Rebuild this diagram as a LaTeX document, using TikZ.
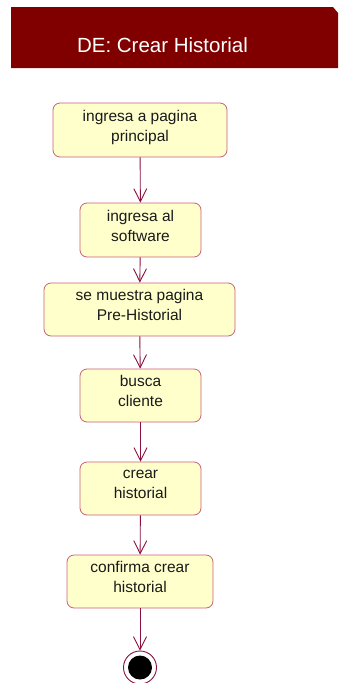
\documentclass[tikz,border=0pt]{standalone}
\usepackage{fontspec}
\setmainfont{Liberation Sans}
\usetikzlibrary{arrows.meta}
\definecolor{umlred}{HTML}{800000}
\definecolor{umlline}{HTML}{8A1040}
\definecolor{umlborder}{HTML}{C8607A}
\definecolor{umlfill}{HTML}{FFFFCC}
\definecolor{umltext}{HTML}{1A1A1A}
\tikzset{
  act/.style={draw=umlborder, fill=umlfill, rounded corners=7pt, align=center, text=umltext,
    font=\fontsize{15.5}{20}\selectfont, inner sep=0pt, text depth=9pt, line width=0.8pt},
  flow/.style={umlline, line width=0.9pt, -{Straight Barb[length=13pt,width=13pt,line width=0.9pt]}}
}
\begin{document}
\begin{tikzpicture}[x=1pt,y=-1pt]
\useasboundingbox (0,0) rectangle (338,683);
% title bar
\fill[umlred] (11,7) -- (333,7) -- (338,13) -- (338,68) -- (11,68) -- cycle;
\node[white, font=\fontsize{20.5}{22}\selectfont] (title) at (162.5,45) {DE: Crear Historial};
% actions
\node[act, minimum width=174pt, minimum height=54pt] (a1) at (140,130) {ingresa a pagina\\principal};
\node[act, minimum width=121pt, minimum height=54pt] (a2) at (140.5,230) {ingresa al\\software};
\node[act, minimum width=191pt, minimum height=53pt] (a3) at (139.5,309.5) {se muestra pagina\\Pre-Historial};
\node[act, minimum width=121pt, minimum height=53pt] (a4) at (140.5,395.5) {busca\\cliente};
\node[act, minimum width=121pt, minimum height=53pt] (a5) at (140.5,488.5) {crear\\historial};
\node[act, minimum width=146pt, minimum height=53pt] (a6) at (140,581.5) {confirma crear\\historial};
% final state
\node[circle, draw=umlline, fill=white, line width=0.9pt, minimum size=33pt, inner sep=0pt] (fin) at (140,667.5) {};
\fill[black] (fin.center) circle (12);
% flows
\draw[flow] (a1) -- (a2);
\draw[flow] (a2) -- (a3);
\draw[flow] (a3) -- (a4);
\draw[flow] (a4) -- (a5);
\draw[flow] (a5) -- (a6);
\draw[flow] (a6) -- (fin);
\end{tikzpicture}
\end{document}
